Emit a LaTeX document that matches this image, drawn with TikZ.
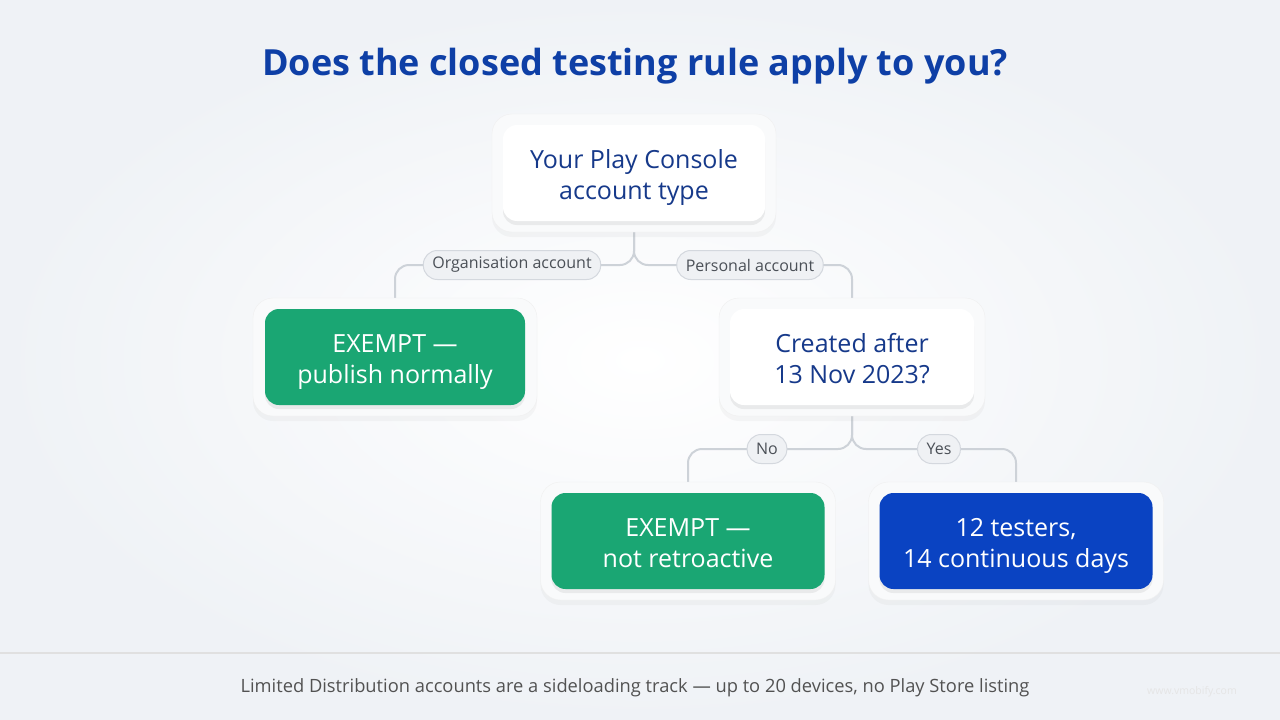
\documentclass[tikz,border=0pt]{standalone}
\usepackage{fontspec}
\setmainfont{Open Sans}
\usetikzlibrary{shadows,backgrounds}

\definecolor{titleblue}{HTML}{0E3FA6}
\definecolor{inkblue}{HTML}{16398A}
\definecolor{exgreen}{HTML}{1AA673}
\definecolor{ruleblue}{HTML}{0A43C2}
\definecolor{linegray}{HTML}{CDD2D8}
\definecolor{pillfill}{HTML}{EFF1F4}
\definecolor{pillline}{HTML}{D4D8DE}
\definecolor{pilltext}{HTML}{4B5057}
\definecolor{bgc}{HTML}{EFF2F6}

\tikzset{
  card/.style={rounded corners=14pt, minimum height=96pt, align=center,
    font=\fontsize{25}{31}\selectfont, text height=57pt, text depth=4pt,
    drop shadow={opacity=0.13, shadow xshift=0pt, shadow yshift=-4pt}},
  whitecard/.style={card, fill=white, text=inkblue},
  greencard/.style={card, fill=exgreen, text=white},
  bluecard/.style={card, fill=ruleblue, text=white},
  halo/.style={rounded corners=20pt, fill=white!60!bgc, draw=black!6,
    drop shadow={opacity=0.06, shadow xshift=0pt, shadow yshift=-5pt}},
  pill/.style={rounded corners=14pt, fill=pillfill, draw=pillline, line width=1pt,
    text=pilltext, font=\fontsize{16}{18}\selectfont, minimum height=29pt,
    inner xsep=9pt},
  conn/.style={draw=linegray, line width=2pt, rounded corners=14pt},
}

\begin{document}
\begin{tikzpicture}[x=1pt,y=-1pt]
  \useasboundingbox (0,0) rectangle (1280,720);
  \begin{pgfonlayer}{background}
    \fill[bgc] (0,0) rectangle (1280,720);
    \shade[inner color=white, outer color=bgc] (0,0) rectangle (1280,720);
  \end{pgfonlayer}

  % title
  \node (title) at (635,66) {\fontsize{36}{40}\selectfont\bfseries\color{titleblue}Does the closed testing rule apply to you?};

  % halos behind the cards
  \node[halo, minimum width=284pt, minimum height=118pt] (rooth) at (634,173) {};
  \node[halo, minimum width=284pt, minimum height=118pt] (ex1h) at (395,357) {};
  \node[halo, minimum width=266pt, minimum height=118pt] (dateh) at (852,357) {};
  \node[halo, minimum width=295pt, minimum height=118pt] (ex2h) at (688,541) {};
  \node[halo, minimum width=295pt, minimum height=118pt] (ruleh) at (1016,541) {};

  % cards
  \node[whitecard, minimum width=262pt] (root) at (634,173) {Your Play Console\\account type};
  \node[greencard, minimum width=260pt] (ex1) at (395,357) {EXEMPT —\\publish normally};
  \node[whitecard, minimum width=244pt] (date) at (852,357) {Created after\\13 Nov 2023?};
  \node[greencard, minimum width=273pt] (ex2) at (688,541) {EXEMPT —\\not retroactive};
  \node[bluecard, minimum width=273pt] (rule) at (1016,541) {12 testers,\\14 continuous days};

  % branch labels
  \node[pill] (org) at (512,265) {Organisation account};
  \node[pill] (pers) at (750,265) {Personal account};
  \node[pill] (no) at (767,449) {No};
  \node[pill] (yes) at (939,449) {Yes};

  % connectors
  \begin{pgfonlayer}{background}
    \draw[conn] (root.south) |- (ex1.north |- org.center) -- (ex1.north);
    \draw[conn] (root.south) |- (date.north |- pers.center) -- (date.north);
    \draw[conn] (date.south) |- (ex2.north |- no.center) -- (ex2.north);
    \draw[conn] (date.south) |- (rule.north |- yes.center) -- (rule.north);
  \end{pgfonlayer}

  % footer
  \draw[black!12, line width=1.5pt] (0,653) -- (1280,653);
  \node[text=black!68, font=\fontsize{18.3}{20}\selectfont] (foot) at (635,688)
    {Limited Distribution accounts are a sideloading track — up to 20 devices, no Play Store listing};
  \node[text=black!10, font=\fontsize{10.5}{12}\selectfont] (mark) at (1192,692) {www.vmobify.com};
\end{tikzpicture}
\end{document}
